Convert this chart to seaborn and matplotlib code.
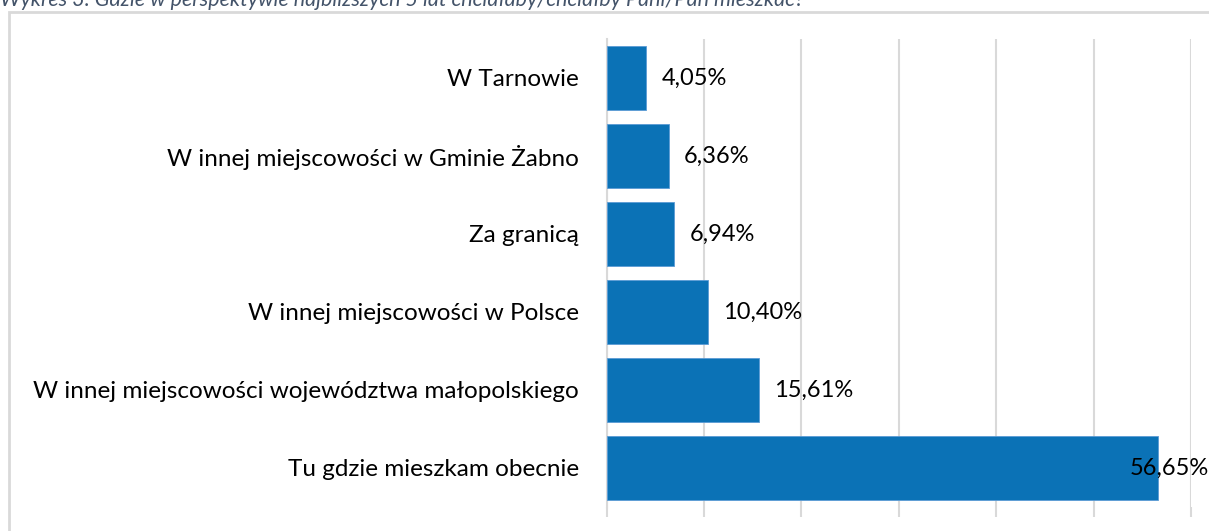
import matplotlib
matplotlib.use("Agg")
import matplotlib.pyplot as plt
import seaborn as sns
import pandas as pd
from matplotlib.patches import Rectangle

categories = [
    "W Tarnowie",
    "W innej miejscowości w Gminie Żabno",
    "Za granicą",
    "W innej miejscowości w Polsce",
    "W innej miejscowości województwa małopolskiego",
    "Tu gdzie mieszkam obecnie",
]
values = [4.05, 6.36, 6.94, 10.40, 15.61, 56.65]
x_ticks = [0, 10, 20, 30, 40, 50, 60]
title = "Wykres 3. Gdzie w perspektywie najbliższych 5 lat chciałaby/chciałby Pani/Pan mieszkać?"

sns.set_theme(style="white")
plt.rcParams["font.family"] = ["Lato", "DejaVu Sans"]

df = pd.DataFrame({"cat": categories, "val": values})

W, H = 1209, 531
fig = plt.figure(figsize=(W / 100, H / 100), dpi=100)
ax = fig.add_axes([606.6 / W, 1 - 507 / H, (1191 - 606.6) / W, (507 - 39) / H])

sns.barplot(data=df, x="val", y="cat", orient="h", color="#0B72B6",
            width=0.81, saturation=1, ax=ax, zorder=3)
for p in ax.patches:
    p.set_edgecolor("#5B9BD5")
    p.set_linewidth(0.6)

ax.set_xlim(0, 60)
ax.set_ylim(5.5, -0.5)
ax.set_xticks(x_ticks)
ax.set_xticklabels([])
ax.grid(axis="x", color="#D9D9D9", linewidth=1.5, zorder=0)
ax.tick_params(axis="x", bottom=True, length=7, color="#D9D9D9", width=1.5)
ax.tick_params(axis="y", left=False, pad=14, labelsize=17.5, labelcolor="#000000")
for s in ["top", "right", "bottom"]:
    ax.spines[s].set_visible(False)
ax.spines["left"].set_color("#D9D9D9")
ax.spines["left"].set_linewidth(1.5)
ax.set_xlabel("")
ax.set_ylabel("")

# value labels
for i, v in enumerate(values):
    lab = f"{v:.2f}".replace(".", ",") + "%"
    if v > 50:
        ax.annotate(lab, xy=(1.0, i), xycoords=("figure fraction", "data"),
                    ha="right", va="center", fontsize=17, color="#000000",
                    annotation_clip=False, zorder=5)
    else:
        ax.annotate(lab, xy=(v, i), xytext=(11, 0), textcoords="offset points",
                    ha="left", va="center", fontsize=17, color="#000000", zorder=5)

# chart frame
fig.patches.append(Rectangle((9 / W, -0.1), 1.2, 1 - 12 / H + 0.1,
                             transform=fig.transFigure, fill=False,
                             edgecolor="#D9D9D9", linewidth=2, zorder=0))

# title, clipped at the top edge as in the reference
fig.text(0, 1 - 6 / H, title, ha="left", va="baseline", fontsize=15.5,
         style="italic", color="#44546A")

fig.savefig("out.png", dpi=100)
